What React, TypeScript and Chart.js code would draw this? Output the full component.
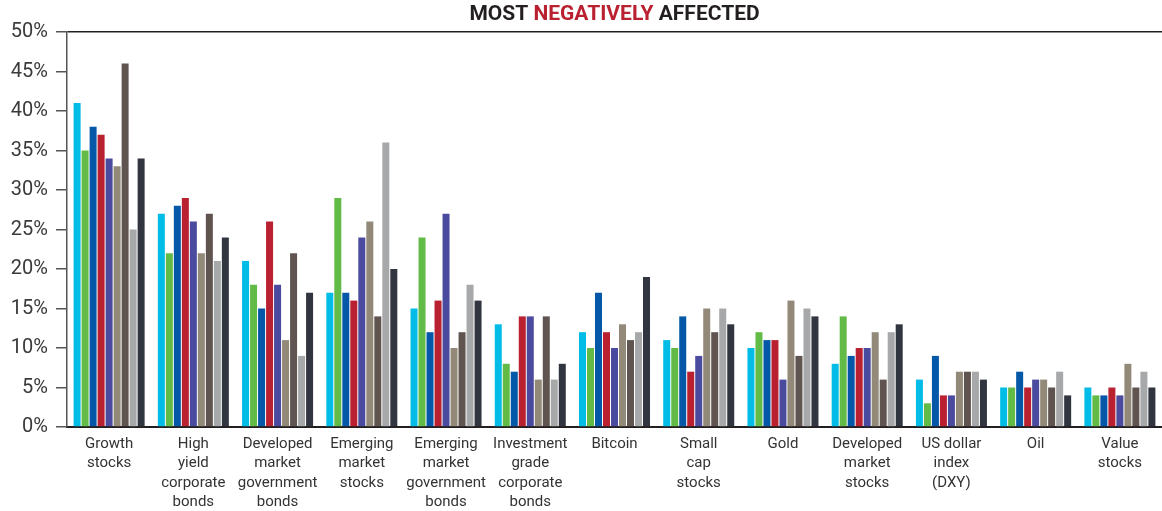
import React, { useEffect, useRef } from "react";
import { Chart, registerables } from "chart.js";
Chart.register(...registerables);

const categories: string[][] = [
  ["Growth", "stocks"],
  ["High", "yield", "corporate", "bonds"],
  ["Developed", "market", "government", "bonds"],
  ["Emerging", "market", "stocks"],
  ["Emerging", "market", "government", "bonds"],
  ["Investment", "grade", "corporate", "bonds"],
  ["Bitcoin"],
  ["Small", "cap", "stocks"],
  ["Gold"],
  ["Developed", "market", "stocks"],
  ["US dollar", "index", "(DXY)"],
  ["Oil"],
  ["Value", "stocks"],
];

const s1 = [41, 27, 21, 17, 15, 13, 12, 11, 10, 8, 6, 5, 5];
const s2 = [35, 22, 18, 29, 24, 8, 10, 10, 12, 14, 3, 5, 4];
const s3 = [38, 28, 15, 17, 12, 7, 17, 14, 11, 9, 9, 7, 4];
const s4 = [37, 29, 26, 16, 16, 14, 12, 7, 11, 10, 4, 5, 5];
const s5 = [34, 26, 18, 24, 27, 14, 10, 9, 6, 10, 4, 6, 4];
const s6 = [33, 22, 11, 26, 10, 6, 13, 15, 16, 12, 7, 6, 8];
const s7 = [46, 27, 22, 14, 12, 14, 11, 12, 9, 6, 7, 5, 5];
const s8 = [25, 21, 9, 36, 18, 6, 12, 15, 15, 12, 7, 7, 7];
const s9 = [34, 24, 17, 20, 16, 8, 19, 13, 14, 13, 6, 4, 5];

const seriesValues = [s1, s2, s3, s4, s5, s6, s7, s8, s9];
const seriesColors = [
  "#00BCE6",
  "#62BB46",
  "#0558A8",
  "#B92030",
  "#4A4A9E",
  "#938978",
  "#5F544F",
  "#A6A8AA",
  "#31353F",
];
const yTicks = [0, 5, 10, 15, 20, 25, 30, 35, 40, 45, 50];

const titleParts = [
  { text: "MOST ", color: "#231F20" },
  { text: "NEGATIVELY", color: "#BA2130" },
  { text: " AFFECTED", color: "#231F20" },
];

const titlePlugin = {
  id: "multiTitle",
  afterDraw(chart: any) {
    const ctx = chart.ctx;
    const area = chart.chartArea;
    ctx.save();
    ctx.font = "bold 21px Roboto";
    ctx.textBaseline = "middle";
    const widths = titleParts.map((p) => ctx.measureText(p.text).width);
    const total = widths.reduce((a, b) => a + b, 0);
    let x = (area.left + area.right) / 2 - total / 2;
    titleParts.forEach((p, i) => {
      ctx.fillStyle = p.color;
      ctx.textAlign = "left";
      ctx.fillText(p.text, x, 15);
      x += widths[i];
    });
    ctx.restore();
  },
};

export default function App() {
  const ref = useRef<HTMLCanvasElement | null>(null);
  useEffect(() => {
    if (!ref.current) return;
    const chart = new Chart(ref.current, {
      type: "bar",
      data: {
        labels: categories,
        datasets: seriesValues.map((v, i) => ({
          label: "S" + (i + 1),
          data: v,
          backgroundColor: seriesColors[i],
          borderWidth: 0,
          categoryPercentage: 0.855,
          barPercentage: 0.875,
        })),
      },
      options: {
        animation: false,
        responsive: false,
        maintainAspectRatio: false,
        layout: { padding: { top: 32, right: 0, left: 0, bottom: 0 } },
        plugins: {
          legend: { display: false },
          title: { display: false },
          tooltip: { enabled: false },
        },
        scales: {
          x: {
            grid: { display: false, drawTicks: false },
            border: { display: true, color: "#231F20", width: 2 },
            ticks: {
              color: "#333333",
              font: { family: "Roboto", size: 15, lineHeight: 1.3 },
              padding: 7,
              maxRotation: 0,
              autoSkip: false,
            },
            afterFit(scale: any) {
              scale.height = 84;
            },
          },
          y: {
            min: 0,
            max: 50,
            afterBuildTicks(scale: any) {
              scale.ticks = yTicks.map((v) => ({ value: v }));
            },
            grid: {
              color: (c: any) => (c.tick && c.tick.value === 50 ? "#231F20" : "rgba(0,0,0,0)"),
              lineWidth: 1.5,
              drawTicks: true,
              tickLength: 11,
              tickColor: "#555555",
              tickWidth: 1.5,
            },
            border: { display: true, color: "#555555", width: 1.5 },
            ticks: {
              color: "#3A3A3A",
              font: { family: "Roboto", size: 20 },
              padding: 8,
              callback: (v: any) => v + "%",
            },
            afterFit(scale: any) {
              scale.width = 67;
            },
          },
        },
      },
      plugins: [titlePlugin],
    });
    return () => chart.destroy();
  }, []);
  return (
    <div style={{ position: "absolute", left: 0, top: 0, width: 1162, height: 511, background: "#fff" }}>
      <canvas ref={ref} width={1162} height={511} style={{ width: 1162, height: 511 }} />
    </div>
  );
}
